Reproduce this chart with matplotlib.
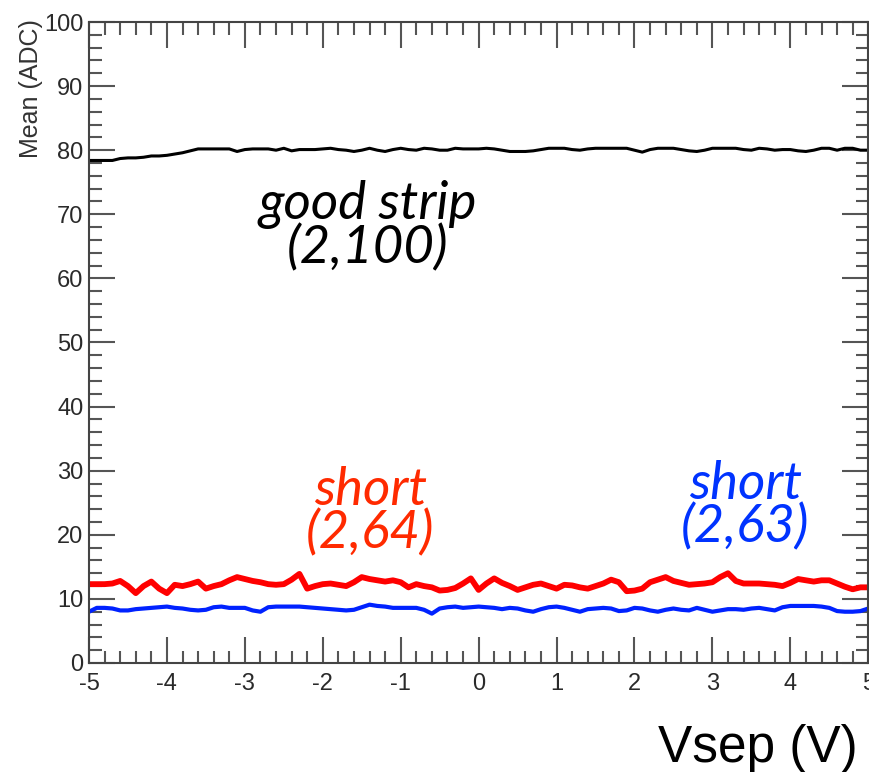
import numpy as np
import matplotlib
matplotlib.use('Agg')
import matplotlib.pyplot as plt
from matplotlib.ticker import MultipleLocator

# Vsep scan, step 0.1 V
vsep = np.round(np.arange(-5.0, 5.01, 0.1), 1)

good_strip = [
    78.4, 78.4, 78.4, 78.4, 78.7, 78.8, 78.8, 78.9, 79.1, 79.1,
    79.2, 79.4, 79.6, 79.9, 80.2, 80.2, 80.2, 80.2, 80.2, 79.8,
    80.1, 80.2, 80.2, 80.2, 80.0, 80.3, 79.9, 80.1, 80.1, 80.1,
    80.2, 80.3, 80.1, 80.0, 79.8, 80.0, 80.3, 80.0, 79.8, 80.1,
    80.3, 80.1, 80.0, 80.3, 80.2, 80.0, 80.0, 80.3, 80.2, 80.2,
    80.2, 80.3, 80.2, 80.0, 79.8, 79.8, 79.8, 79.9, 80.1, 80.3,
    80.3, 80.3, 80.1, 80.0, 80.2, 80.3, 80.3, 80.3, 80.3, 80.3,
    80.0, 79.7, 80.1, 80.3, 80.3, 80.3, 80.1, 79.9, 79.8, 80.0,
    80.3, 80.3, 80.3, 80.3, 80.1, 80.0, 80.3, 80.2, 80.0, 80.1,
    80.1, 79.9, 79.8, 80.0, 80.3, 80.3, 80.0, 80.3, 80.3, 80.0,
    80.0,
]

short_64 = [
    12.3, 12.3, 12.3, 12.4, 12.8, 12.0, 10.9, 12.0, 12.7, 11.6,
    10.9, 12.2, 12.0, 12.3, 12.7, 11.6, 12.0, 12.3, 12.9, 13.4,
    13.1, 12.8, 12.6, 12.3, 12.2, 12.3, 13.0, 13.9, 11.6, 12.0,
    12.3, 12.4, 12.2, 12.0, 12.6, 13.4, 13.1, 12.9, 12.7, 12.9,
    12.6, 11.8, 12.3, 12.0, 11.8, 11.3, 11.4, 11.7, 12.4, 13.2,
    11.4, 12.4, 13.2, 12.5, 12.0, 11.4, 11.8, 12.2, 12.4, 12.0,
    11.6, 12.2, 12.1, 11.8, 11.6, 12.0, 12.4, 13.0, 12.6, 11.2,
    11.3, 11.6, 12.6, 13.0, 13.4, 12.8, 12.5, 12.2, 12.3, 12.4,
    12.6, 13.4, 14.0, 12.8, 12.4, 12.4, 12.4, 12.3, 12.2, 12.0,
    12.5, 13.1, 12.9, 12.7, 12.9, 12.9, 12.4, 11.9, 11.5, 11.8,
    11.8,
]

short_63 = [
    8.0, 8.6, 8.6, 8.5, 8.2, 8.2, 8.4, 8.5, 8.6, 8.7,
    8.8, 8.6, 8.5, 8.3, 8.2, 8.3, 8.7, 8.8, 8.6, 8.6,
    8.6, 8.2, 8.0, 8.7, 8.8, 8.8, 8.8, 8.8, 8.7, 8.6,
    8.5, 8.4, 8.3, 8.2, 8.3, 8.7, 9.1, 8.9, 8.8, 8.6,
    8.6, 8.6, 8.6, 8.3, 7.7, 8.5, 8.7, 8.8, 8.6, 8.7,
    8.8, 8.7, 8.6, 8.4, 8.6, 8.5, 8.2, 8.0, 8.4, 8.7,
    8.8, 8.6, 8.3, 8.0, 8.4, 8.5, 8.6, 8.5, 8.1, 8.2,
    8.6, 8.5, 8.2, 8.0, 8.3, 8.5, 8.3, 8.2, 8.6, 8.3,
    8.0, 8.2, 8.4, 8.4, 8.3, 8.5, 8.6, 8.4, 8.2, 8.7,
    8.9, 8.9, 8.9, 8.9, 8.8, 8.6, 8.1, 8.0, 8.0, 8.1,
    8.5,
]

plt.rcParams['font.family'] = ['Liberation Sans', 'DejaVu Sans']
plt.rcParams['axes.unicode_minus'] = False

fig = plt.figure(figsize=(8.7, 7.72), dpi=100)
ax = fig.add_axes([0.1023, 0.1412, 0.8957, 0.8303])

ax.plot(vsep, good_strip, color='black', lw=2.2)
ax.plot(vsep, short_64, color='#ff0000', lw=4.2)
ax.plot(vsep, short_63, color='#0022ff', lw=3.0)

ax.set_xlim(-5, 5)
ax.set_ylim(0, 100)
ax.xaxis.set_major_locator(MultipleLocator(1))
ax.xaxis.set_minor_locator(MultipleLocator(0.2))
ax.yaxis.set_major_locator(MultipleLocator(10))
ax.yaxis.set_minor_locator(MultipleLocator(2))
ax.tick_params(which='both', direction='in', top=True, right=True,
               color='#555555', width=1.5, labelsize=17, labelcolor='#2a2a2a')
ax.tick_params(which='major', length=19)
ax.tick_params(which='minor', length=9)
ax.tick_params(axis='x', pad=7)
ax.tick_params(axis='y', pad=4)
for s in ax.spines.values():
    s.set_color('#444444')
    s.set_linewidth(1.5)

# strip labels, anchored at the baseline of the second line
ann = dict(family=['Lato', 'DejaVu Sans'], style='italic', fontsize=38,
           ha='center', va='baseline', multialignment='center', linespacing=0.86)
ax.text(-1.42, 62.4, 'good strip\n(2,100)', color='black', **ann)
ax.text(-1.39, 17.9, 'short\n(2,64)', color='#ff2a00', **ann)
ax.text(3.42, 18.9, 'short\n(2,63)', color='#0033ff', **ann)

fig.text(0.036, 0.975, 'Mean (ADC)', rotation=90, ha='center', va='top',
         fontsize=18, color='#333333')
fig.text(0.986, 0.013, 'Vsep (V)', ha='right', va='baseline',
         fontsize=37, color='black')

fig.savefig('out.png', dpi=100)
